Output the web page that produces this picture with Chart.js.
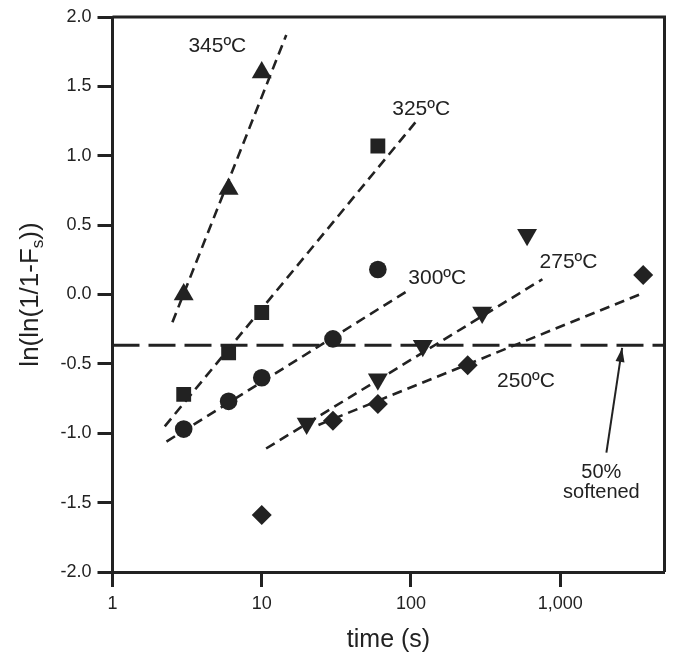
<!DOCTYPE html>
<html>
<head>
<meta charset="utf-8">
<script src="https://cdn.jsdelivr.net/npm/chart.js@4/dist/chart.umd.min.js"></script>
<style>
  html, body { margin: 0; padding: 0; background: #fff; }
</style>
</head>
<body>
<canvas id="softening" width="676" height="659"></canvas>
<script>
// measured points, one pair of arrays per temperature
const times345 = [3, 6, 10];
const vals345 = [0.0, 0.76, 1.6];
const times325 = [3, 6, 10, 60];
const vals325 = [-0.72, -0.42, -0.13, 1.07];
const times300 = [3, 6, 10, 30, 60];
const vals300 = [-0.97, -0.77, -0.60, -0.32, 0.18];
const times275 = [20, 60, 120, 300, 600];
const vals275 = [-0.93, -0.61, -0.37, -0.13, 0.43];
const times250 = [10, 30, 60, 240, 3600];
const vals250 = [-1.59, -0.91, -0.79, -0.51, 0.14];

// fitted lines (start, end)
const fitTimes345 = [2.52, 14.6];
const fitVals345 = [-0.2, 1.87];
const fitTimes325 = [2.24, 107];
const fitVals325 = [-0.95, 1.24];
const fitTimes300 = [2.3, 96];
const fitVals300 = [-1.06, 0.03];
const fitTimes275 = [10.7, 760];
const fitVals275 = [-1.11, 0.11];
const fitTimes250 = [24, 3400];
const fitVals250 = [-0.94, 0.0];

// 50% softened level and its pointer
const halfTimes = [1, 5000];
const halfVals = [-0.365, -0.365];
const arrowTimes = [2040, 2600];
const arrowVals = [-1.14, -0.385];

// tick labels
const xTickVals = [1, 10, 100, 1000];
const xTickLabels = ['1', '10', '100', '1,000'];
const yTickVals = [-2.0, -1.5, -1.0, -0.5, 0.0, 0.5, 1.0, 1.5, 2.0];

// text notes on the plot
const noteTexts = ['345ºC', '325ºC', '300ºC', '275ºC', '250ºC', '50%', 'softened'];
const noteTimes = [5.04, 117, 150, 1137, 590, 1888, 1888];
const noteVals = [1.786, 1.338, 0.12, 0.23, -0.626, -1.284, -1.428];

const ink = '#222';
const fontFamily = "'Liberation Sans', Arial, sans-serif";

function pts(xs, ys) {
    return xs.map((x, i) => ({ x: x, y: ys[i] }));
}

function markers(label, xs, ys, style, radius, rotation) {
    return {
        label: label,
        data: pts(xs, ys),
        pointStyle: style,
        pointRadius: radius,
        pointRotation: rotation || 0,
        backgroundColor: ink,
        borderColor: ink,
        borderWidth: 0,
        showLine: false
    };
}

function dashed(label, xs, ys, dash, width) {
    return {
        label: label,
        data: pts(xs, ys),
        showLine: true,
        pointRadius: 0,
        borderColor: ink,
        borderWidth: width,
        borderDash: dash,
        fill: false
    };
}

const extras = {
    id: 'extras',
    afterDraw(chart) {
        const ctx = chart.ctx;
        const area = chart.chartArea;
        const xs = chart.scales.x;
        const ys = chart.scales.y;
        ctx.save();

        // top and right frame
        ctx.strokeStyle = ink;
        ctx.lineWidth = 3;
        ctx.beginPath();
        ctx.moveTo(area.left, area.top);
        ctx.lineTo(area.right, area.top);
        ctx.lineTo(area.right, area.bottom);
        ctx.stroke();

        // arrow head
        const x1 = xs.getPixelForValue(arrowTimes[0]), y1 = ys.getPixelForValue(arrowVals[0]);
        const x2 = xs.getPixelForValue(arrowTimes[1]), y2 = ys.getPixelForValue(arrowVals[1]);
        const ang = Math.atan2(y2 - y1, x2 - x1);
        const len = 14, half = 4.5;
        ctx.fillStyle = ink;
        ctx.beginPath();
        ctx.moveTo(x2, y2);
        ctx.lineTo(x2 - len * Math.cos(ang) + half * Math.sin(ang), y2 - len * Math.sin(ang) - half * Math.cos(ang));
        ctx.lineTo(x2 - len * Math.cos(ang) - half * Math.sin(ang), y2 - len * Math.sin(ang) + half * Math.cos(ang));
        ctx.closePath();
        ctx.fill();

        // notes
        ctx.textAlign = 'center';
        ctx.textBaseline = 'middle';
        noteTexts.forEach((t, i) => {
            ctx.font = (i < 5 ? '21px ' : '20px ') + fontFamily;
            ctx.fillText(t, xs.getPixelForValue(noteTimes[i]), ys.getPixelForValue(noteVals[i]));
        });

        // x title
        ctx.font = '25px ' + fontFamily;
        ctx.textBaseline = 'alphabetic';
        ctx.fillText('time (s)', (area.left + area.right) / 2, 647);

        // y title with subscript s
        const main = '26px ' + fontFamily, sub = '17px ' + fontFamily;
        ctx.font = main;
        const a = 'ln(ln(1/1-F', c = '))';
        const wa = ctx.measureText(a).width, wc = ctx.measureText(c).width;
        ctx.font = sub;
        const wb = ctx.measureText('s').width;
        const total = wa + wb + wc;
        ctx.translate(38, (area.top + area.bottom) / 2);
        ctx.rotate(-Math.PI / 2);
        ctx.textAlign = 'left';
        let pos = -total / 2;
        ctx.font = main;
        ctx.fillText(a, pos, 0);
        pos += wa;
        ctx.font = sub;
        ctx.fillText('s', pos, 5);
        pos += wb;
        ctx.font = main;
        ctx.fillText(c, pos, 0);
        ctx.restore();
    }
};

new Chart(document.getElementById('softening'), {
    type: 'scatter',
    data: {
        datasets: [
            markers('345ºC', times345, vals345, 'triangle', 11.5),
            markers('325ºC', times325, vals325, 'rect', 10.5),
            markers('300ºC', times300, vals300, 'circle', 8.8),
            markers('275ºC', times275, vals275, 'triangle', 11.5, 180),
            markers('250ºC', times250, vals250, 'rectRot', 10),
            dashed('fit 345', fitTimes345, fitVals345, [10, 6], 2.6),
            dashed('fit 325', fitTimes325, fitVals325, [10, 6], 2.6),
            dashed('fit 300', fitTimes300, fitVals300, [10, 6], 2.6),
            dashed('fit 275', fitTimes275, fitVals275, [10, 6], 2.6),
            dashed('fit 250', fitTimes250, fitVals250, [10, 6], 2.6),
            dashed('50% softened', halfTimes, halfVals, [27, 9], 3),
            dashed('pointer', arrowTimes, arrowVals, [], 2)
        ]
    },
    options: {
        responsive: false,
        animation: false,
        devicePixelRatio: 1,
        layout: { padding: { top: 17, right: 8, left: 0, bottom: 0 } },
        plugins: {
            legend: { display: false },
            tooltip: { enabled: false }
        },
        scales: {
            x: {
                type: 'logarithmic',
                min: 1,
                max: 5000,
                afterBuildTicks: scale => {
                    scale.ticks = xTickVals.map(v => ({ value: v }));
                },
                afterFit: scale => { scale.height = 87; },
                ticks: {
                    color: ink,
                    font: { family: fontFamily, size: 18 },
                    padding: 6,
                    maxRotation: 0,
                    autoSkip: false,
                    callback: function (value) {
                        const i = xTickVals.indexOf(value);
                        return i >= 0 ? xTickLabels[i] : '';
                    }
                },
                grid: {
                    drawOnChartArea: false,
                    drawTicks: true,
                    tickLength: 15,
                    tickWidth: 3,
                    tickColor: ink
                },
                border: { display: true, color: ink, width: 3 }
            },
            y: {
                min: -2,
                max: 2,
                afterBuildTicks: scale => {
                    scale.ticks = yTickVals.map(v => ({ value: v }));
                },
                afterFit: scale => { scale.width = 112.5; },
                ticks: {
                    color: ink,
                    font: { family: fontFamily, size: 18 },
                    padding: 6,
                    callback: value => value.toFixed(1)
                },
                grid: {
                    drawOnChartArea: false,
                    drawTicks: true,
                    tickLength: 15,
                    tickWidth: 3,
                    tickColor: ink
                },
                border: { display: true, color: ink, width: 3 }
            }
        }
    },
    plugins: [extras]
});
</script>
</body>
</html>
